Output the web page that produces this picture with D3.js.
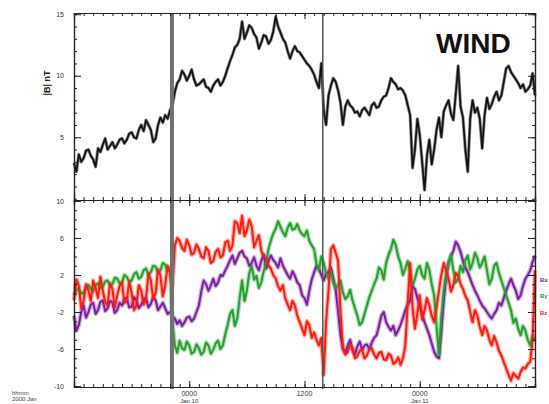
<!DOCTYPE html>
<html>
<head>
<meta charset="utf-8">
<script src="https://cdn.jsdelivr.net/npm/d3@7"></script>
<style>
  html, body { margin: 0; padding: 0; background: #fff; }
  svg { display: block; }
  text { font-family: "Liberation Sans", Arial, sans-serif; }
</style>
</head>
<body>
<svg id="chart" width="549" height="404"></svg>
<script>
// WIND magnetometer: |B| (top) and field components (bottom), quarter-hour samples over 48 h
const STEP_H = 0.25;

const bMag = [2.9,2.2,3.6,3.0,3.3,3.9,4.0,3.5,3.2,2.6,
  4.1,3.8,4.4,4.9,4.0,4.3,4.6,4.1,4.4,4.8,
  4.9,4.5,4.8,5.3,5.4,5.0,4.9,5.6,6.0,5.5,
  6.4,6.0,5.6,4.6,4.9,6.0,6.6,6.2,6.8,6.5,
  7.2,7.6,8.7,9.4,9.7,10.4,10.1,9.6,10.0,10.5,
  9.7,9.2,9.3,9.5,9.7,9.1,9.0,8.7,9.2,9.5,
  9.7,9.2,9.5,10.0,10.6,11.2,11.7,12.3,12.5,13.0,
  14.4,13.0,13.5,14.1,13.9,13.4,13.1,12.2,12.7,13.3,
  13.2,12.6,12.9,13.6,14.8,14.0,13.5,13.0,12.7,12.0,
  11.4,12.0,12.4,12.0,11.9,11.6,11.3,11.0,10.8,10.5,
  10.1,9.5,9.0,11.0,7.2,6.0,8.4,9.2,9.8,9.5,
  8.8,7.8,6.0,7.5,8.0,7.6,7.4,7.0,7.1,6.7,
  7.2,7.4,7.1,6.8,7.6,7.8,7.4,7.5,8.0,8.3,
  8.4,9.0,9.8,9.5,9.3,8.9,9.0,8.8,8.4,7.6,
  6.8,2.5,4.0,6.5,5.2,3.0,0.7,3.5,4.8,2.8,
  4.0,5.6,6.6,5.0,7.1,7.6,8.0,6.9,6.4,8.5,
  10.8,7.5,6.6,4.0,2.2,6.5,8.0,7.0,7.4,6.5,
  4.1,6.8,8.2,7.3,7.7,8.3,8.7,8.0,8.4,9.5,
  10.6,10.8,10.3,10.0,9.7,9.4,9.0,9.3,8.7,8.9,
  9.2,10.2,8.4];

const bx = [-2.4,-4.0,-3.4,-2.0,-1.3,-2.6,-2.0,-1.2,-1.0,-2.2,
  -1.8,-0.9,-0.75,-1.9,-1.6,-0.8,-1.0,-2.1,-1.8,-1.0,
  -1.3,-0.6,-0.5,-1.5,-1.4,-0.4,-0.75,-1.6,-1.2,-0.6,
  -0.5,-1.5,-1.1,-0.4,-0.75,-1.8,-1.4,-1.0,-1.6,-2.2,
  -2.0,-2.5,-2.7,-3.3,-2.9,-3.5,-3.1,-2.6,-2.5,-3.0,
  -2.7,-2.0,-1.3,0.2,1.4,1.0,0.3,0.9,1.6,0.8,
  1.2,2.0,1.9,2.5,3.0,3.6,4.1,3.2,3.8,4.4,
  4.6,4.0,3.8,3.0,3.3,3.9,3.0,2.5,3.5,4.2,
  2.7,3.5,4.1,3.6,3.3,2.8,3.8,3.0,2.5,2.0,
  1.6,2.4,1.9,1.2,0.9,-0.2,-0.5,-1.2,0.3,1.5,
  2.3,3.0,2.7,2.0,1.4,2.2,2.3,2.8,1.6,0.4,
  -2.0,-4.5,-5.9,-6.4,-5.6,-5.0,-6.1,-6.6,-5.7,-5.2,
  -6.1,-5.6,-5.5,-6.0,-5.3,-4.8,-4.5,-3.5,-2.4,-2.0,
  -3.1,-3.6,-4.0,-3.5,-4.5,-4.0,-3.4,-2.6,-1.8,-1.2,
  -0.75,0.8,0.5,-0.5,-1.3,-2.2,-3.1,-3.8,-4.5,-5.4,
  -6.3,-6.8,-7.0,-4.0,-0.75,1.8,3.3,4.0,4.6,5.6,
  5.2,4.5,3.5,2.8,2.3,1.6,0.9,0.3,-0.2,-0.8,
  -1.3,-1.6,-2.0,-2.4,-2.7,-2.2,-1.8,-1.0,-1.3,-0.5,
  0.3,1.0,1.6,0.9,0.3,-0.6,-0.2,0.8,1.6,2.0,
  2.5,3.4,4.1];

const by = [-0.2,0.4,0.5,0.0,0.1,0.7,0.9,0.5,0.3,0.9,
  1.1,0.6,0.75,1.3,1.4,0.9,1.0,1.7,1.6,1.1,
  1.2,2.0,1.8,1.3,1.4,2.1,2.3,1.6,1.8,2.5,
  2.7,2.0,2.3,3.0,2.9,2.2,2.5,3.3,3.1,2.4,
  2.7,-3.0,-5.6,-6.4,-5.1,-5.9,-6.1,-5.2,-5.6,-6.5,
  -6.3,-5.5,-5.9,-6.6,-6.3,-5.3,-5.6,-6.5,-6.1,-5.4,
  -5.1,-6.0,-5.6,-4.4,-3.4,-2.2,-1.8,-3.5,-2.7,-0.5,
  1.4,-0.8,0.3,2.2,3.0,1.5,1.9,0.6,1.2,2.4,
  3.3,4.8,5.7,6.5,7.0,7.8,7.2,6.6,6.2,7.1,
  7.6,6.9,7.0,7.5,6.8,6.4,6.2,6.8,5.7,5.2,
  4.8,3.2,2.5,4.0,3.3,2.2,1.6,2.4,1.2,0.6,
  0.9,1.4,0.1,-0.6,-0.3,0.4,-0.75,-1.6,-2.4,-3.4,
  -3.1,-2.2,-1.3,-0.4,0.3,1.0,1.6,2.8,2.5,1.5,
  3.3,4.2,4.8,5.8,5.2,4.0,3.3,2.0,2.7,3.5,
  2.3,0.8,1.6,2.6,3.0,2.0,1.6,3.3,2.5,1.0,
  -0.2,-3.5,-6.7,-2.5,0.3,2.0,3.3,4.2,2.5,1.2,
  1.6,3.0,2.3,3.6,4.1,2.6,3.3,4.4,3.8,2.8,
  3.3,4.0,2.5,1.0,1.6,3.0,3.3,2.2,1.4,0.6,
  -0.2,-1.0,-1.8,-3.2,-2.7,-3.8,-4.5,-3.5,-4.0,-5.0,
  -5.6,-4.6,-5.1];

const bz = [-0.75,1.5,0.86,-1.6,-0.75,1.0,0.32,-0.8,1.4,0.6,
  -0.5,1.8,0.3,-0.9,-1.3,1.1,0.5,-1.5,-0.2,0.8,
  1.2,-1.0,-0.75,1.3,0.1,-1.8,-1.3,0.9,0.3,-1.2,
  -0.5,2.2,1.4,-0.6,0.1,2.6,1.9,-0.3,0.9,3.0,
  2.3,0.8,5.2,6.0,5.7,4.9,4.6,5.8,5.2,4.2,
  4.4,5.3,4.8,4.0,3.8,5.0,4.6,3.3,3.5,4.5,
  4.8,3.9,4.1,5.5,5.7,4.6,5.2,7.8,7.6,6.5,
  8.4,6.2,6.8,8.0,7.3,5.0,5.7,6.3,4.6,4.0,
  3.8,3.0,2.7,2.0,1.6,0.8,0.3,0.9,-0.5,-1.2,
  -1.8,-0.8,-1.3,-2.4,-3.1,-3.8,-4.5,-3.0,-3.4,-4.8,
  -4.2,-5.0,-5.6,-4.8,-8.8,-3.0,0.3,4.8,5.2,4.4,
  3.5,-2.0,-5.9,-6.6,-6.3,-5.5,-5.9,-7.0,-6.8,-6.2,
  -6.1,-7.0,-6.7,-6.0,-5.9,-6.6,-7.0,-6.4,-6.3,-7.1,
  -7.2,-6.5,-6.7,-7.6,-7.4,-6.9,-7.7,-7.0,-5.6,-1.0,
  3.3,-1.5,-3.8,-2.2,-0.2,-2.8,-1.8,-0.5,-1.3,-2.4,
  -3.1,-1.5,0.3,2.0,3.3,2.5,1.6,0.2,0.9,2.2,
  1.9,1.0,0.5,-0.3,-0.75,-2.0,-3.1,-1.8,-2.4,-3.6,
  -4.5,-3.5,-4.0,-5.0,-5.6,-4.6,-5.3,-6.2,-6.7,-7.4,
  -8.1,-8.8,-9.4,-8.6,-8.9,-9.2,-8.5,-8.0,-8.1,-7.6,
  -7.4,-5.0,2.5];

// Axis ticks and labels
const hourTicksMajor = [0, 12, 24, 36, 48];
const hourLabels = { 12: ["0000", "Jan 10"], 24: ["1200", ""], 36: ["0000", "Jan 11"] };
const topTicks = [5, 10, 15];
const botTicks = [-10, -6, -2, 2, 6, 10];
const eventHours = [10.2, 25.9];
const compNames = ["Bx", "By", "Bz"];
const compColors = ["#7a1fa0", "#22a02a", "#ff1a0a"];

const svg = d3.select("#chart");
const L = 74, R = 535, T1 = 13, B1 = 200, T2 = 200, B2 = 387;

const x = d3.scaleLinear().domain([0, 48]).range([L, R]);
const yTop = d3.scaleLinear().domain([-0.1, 15.1]).range([B1, T1]);
const yBot = d3.scaleLinear().domain([-10.1, 10.1]).range([B2, T2]);
const t = i => i * STEP_H;

// Component traces (soft halo under a solid line)
const comps = [bx, by, bz];
const lineBot = d3.line().x((d, i) => x(t(i))).y(d => yBot(d));
comps.forEach((arr, k) => {
  svg.append("path").datum(arr).attr("d", lineBot)
    .attr("fill", "none").attr("stroke", compColors[k]).attr("stroke-opacity", 0.35)
    .attr("stroke-width", 4.5).attr("stroke-linejoin", "round");
});
comps.forEach((arr, k) => {
  svg.append("path").datum(arr).attr("d", lineBot)
    .attr("fill", "none").attr("stroke", compColors[k])
    .attr("stroke-width", 2).attr("stroke-linejoin", "round");
});

// |B| trace
const lineTop = d3.line().x((d, i) => x(t(i))).y(d => yTop(d));
svg.append("path").datum(bMag).attr("d", lineTop)
  .attr("fill", "none").attr("stroke", "#8a8a8a").attr("stroke-width", 3.2).attr("stroke-linejoin", "round");
svg.append("path").datum(bMag).attr("d", lineTop)
  .attr("fill", "none").attr("stroke", "#111").attr("stroke-width", 1.7).attr("stroke-linejoin", "round");

// Event markers
svg.append("line").attr("x1", x(eventHours[0])).attr("x2", x(eventHours[0]))
  .attr("y1", T1).attr("y2", B2 + 2).attr("stroke", "#707070").attr("stroke-width", 4);
svg.append("line").attr("x1", x(eventHours[1])).attr("x2", x(eventHours[1]))
  .attr("y1", T1).attr("y2", B2 + 2).attr("stroke", "#555").attr("stroke-width", 1.5);

// Frames and axes
function frame(top, bottom, yScale, majors) {
  const g = svg.append("g");
  const styleAxis = sel => {
    sel.select(".domain").attr("stroke", "#222").attr("stroke-width", 1.2);
    sel.selectAll(".tick line").attr("stroke", "#222");
    sel.selectAll("text").attr("fill", "#333").style("font-size", "7px");
  };
  // x axes (top and bottom edges), ticks inward
  g.append("g").attr("transform", `translate(0,${bottom})`)
    .call(d3.axisBottom(x).tickValues(d3.range(0, 49, 1)).tickSize(-3).tickFormat(""))
    .call(styleAxis);
  g.append("g").attr("transform", `translate(0,${bottom})`)
    .call(d3.axisBottom(x).tickValues(hourTicksMajor).tickSize(-6).tickFormat(""))
    .call(styleAxis);
  g.append("g").attr("transform", `translate(0,${top})`)
    .call(d3.axisTop(x).tickValues(d3.range(0, 49, 1)).tickSize(-3).tickFormat(""))
    .call(styleAxis);
  g.append("g").attr("transform", `translate(0,${top})`)
    .call(d3.axisTop(x).tickValues(hourTicksMajor).tickSize(-6).tickFormat(""))
    .call(styleAxis);
  // y axes (left with labels, right without)
  const dom = yScale.domain();
  const minors = d3.range(Math.ceil(dom[0]), Math.floor(dom[1]) + 1, 1);
  g.append("g").attr("transform", `translate(${L},0)`)
    .call(d3.axisLeft(yScale).tickValues(minors).tickSize(-3).tickFormat(""))
    .call(styleAxis);
  g.append("g").attr("transform", `translate(${L},0)`)
    .call(d3.axisLeft(yScale).tickValues(majors).tickSize(-7).tickPadding(10).tickFormat(d => d))
    .call(styleAxis);
  g.append("g").attr("transform", `translate(${R},0)`)
    .call(d3.axisRight(yScale).tickValues(minors).tickSize(-3).tickFormat(""))
    .call(styleAxis);
  g.append("g").attr("transform", `translate(${R},0)`)
    .call(d3.axisRight(yScale).tickValues(majors).tickSize(-7).tickFormat(""))
    .call(styleAxis);
}
frame(T1, B1, yTop, topTicks);
frame(T2, B2, yBot, botTicks);

// Time labels under the lower panel
const lab = svg.append("g");
Object.keys(hourLabels).forEach(h => {
  const [a, b] = hourLabels[h];
  lab.append("text").attr("x", x(+h)).attr("y", 396).attr("text-anchor", "middle")
    .style("font-size", "7px").attr("fill", "#333").text(a);
  if (b) lab.append("text").attr("x", x(+h)).attr("y", 403).attr("text-anchor", "middle")
    .style("font-size", "6px").attr("fill", "#333").text(b);
});
lab.append("text").attr("x", 12).attr("y", 395).style("font-size", "6px").attr("fill", "#444").text("hhmm");
lab.append("text").attr("x", 12).attr("y", 401).style("font-size", "6px").attr("fill", "#444").text("2000 Jan");

// Panel annotations
svg.append("text").attr("transform", "translate(50,83) rotate(-90)").attr("text-anchor", "middle")
  .style("font-size", "9px").style("font-weight", "bold").attr("fill", "#222").text("|B| nT");
svg.append("text").attr("x", 436).attr("y", 53).style("font-size", "28px")
  .style("font-weight", "bold").attr("fill", "#111").text("WIND");

compNames.forEach((n, k) => {
  svg.append("text").attr("x", 540).attr("y", [282, 298, 315][k])
    .style("font-size", "6px").style("font-weight", "bold").attr("fill", compColors[k]).text(n);
});
</script>
</body>
</html>
